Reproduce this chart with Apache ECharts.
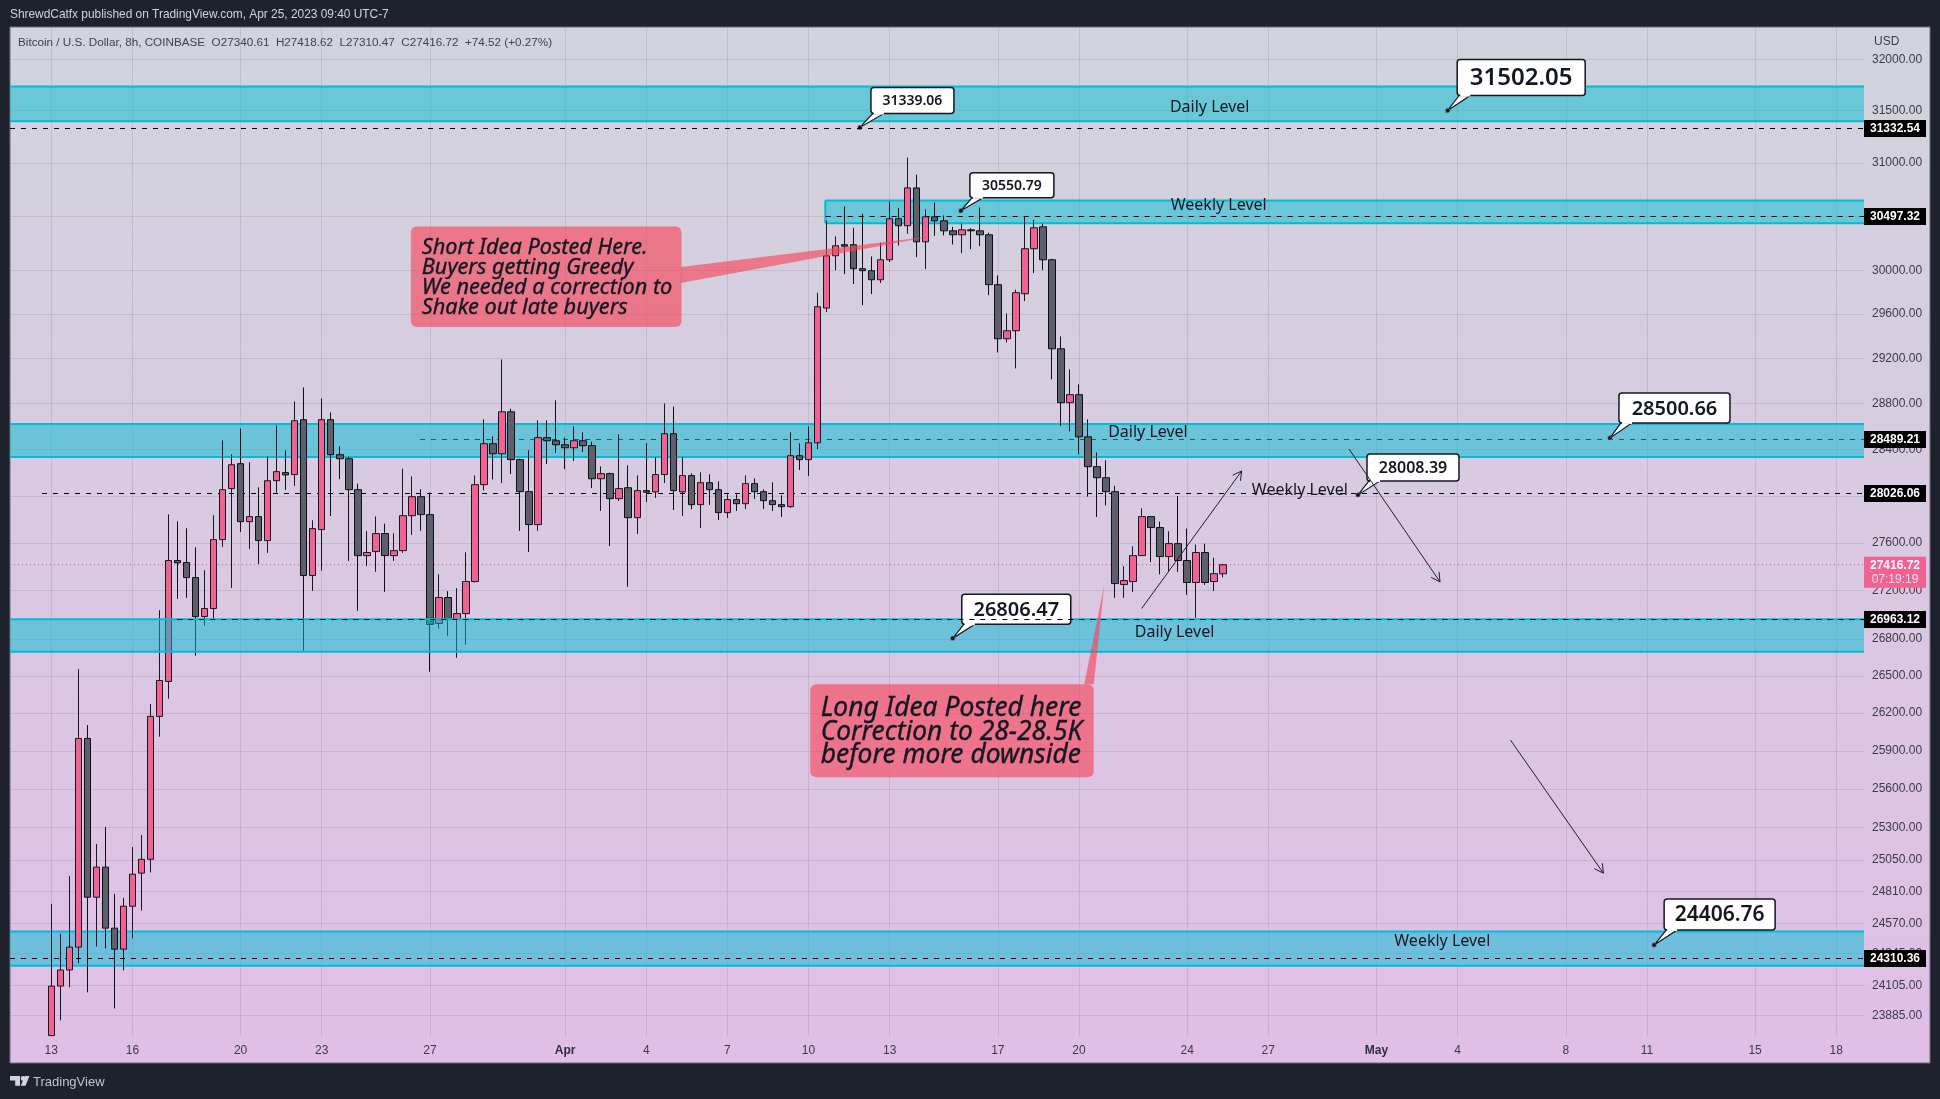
<!DOCTYPE html>
<html><head><meta charset="utf-8"><title>BTCUSD</title>
<style>html,body{margin:0;padding:0;background:#1e222d}#c{width:1940px;height:1099px}</style>
<script src="https://cdn.jsdelivr.net/npm/echarts@6/dist/echarts.min.js"></script>
</head><body><div id="c"></div><script>
// ---- data (8h candles from 13 Mar 2023) ----
const opens=[23740,24102,24221,24391,25998,24766,24995,24533,24376,24698,24949,25055,26174,26455,27452,27435,27309,26985,27052,27628,28062,28277,27780,27823,27620,28130,28200,28183,28660,27326,27713,28660,28355,28320,28053,27493,27527,27679,27493,27535,27831,27993,27840,26928,27143,26961,27010,27276,28096,28450,28363,28729,28312,28036,27755,28503,28476,28441,28415,28476,28433,28147,28191,27976,28070,27814,28045,28034,28183,28537,28034,28174,27925,28113,28053,27857,27968,27933,28105,28036,27959,27925,27908,28346,28312,28458,29655,30133,30235,30235,30014,29996,29913,30096,30476,30411,30765,30262,30494,30457,30364,30327,30373,30364,30327,29868,29378,29450,29785,30198,30401,30096,29288,28809,28880,28510,28251,28156,28036,27251,27276,27493,27823,27730,27485,27594,27452,27268,27519,27276,27340.61];
const closes=[24102,24221,24391,25998,24766,24995,24533,24376,24698,24941,25055,26174,26463,27452,27432,27309,26985,27052,27628,28053,28268,27780,27823,27620,28130,28208,28180,28651,27326,27721,28660,28355,28320,28053,27493,27519,27679,27493,27535,27831,27993,27840,26920,27143,26961,27010,27276,28096,28450,28363,28729,28312,28036,27755,28503,28476,28441,28415,28476,28433,28147,28191,27976,28062,27814,28045,28031,28183,28537,28045,28174,27925,28113,28053,27857,27968,27933,28105,28036,27959,27925,27908,28346,28312,28458,29667,30133,30225,30222,30014,29996,29913,30096,30476,30411,30765,30262,30494,30457,30364,30327,30373,30364,30327,29868,29378,29450,29795,30198,30392,30096,29288,28809,28880,28510,28251,28156,28036,27259,27284,27493,27823,27730,27485,27594,27452,27268,27519,27268,27342,27416.72];
const lows=[23735,23851,24093,24270,24056,24396,24381,23938,24218,24456,24665,24954,26012,26316,27132,27140,26664,26909,26966,27566,27223,27693,27549,27424,27516,28028,28051,28085,26704,27198,27367,27828,28144,27449,27032,27406,27357,27190,27449,27516,27667,27702,26534,26885,26827,26648,26753,27268,28047,28141,28110,28188,27702,27524,27702,28274,28369,28231,28300,28378,28067,27871,27574,27956,27232,27676,27948,27982,28110,27879,27828,27885,27727,27922,27794,27811,27871,27888,27973,27888,27871,27820,27897,28222,28170,28404,29618,29999,29965,29874,29682,29782,29883,30075,30228,30337,30121,30011,30318,30321,30238,30158,30194,30222,29773,29255,29345,29113,29719,29974,30002,29015,28604,28558,28358,27993,27820,27919,27140,27140,27190,27493,27438,27336,27360,27357,27165,26975,27248,27198,27310.47];
const highs=[24716,24491,24928,26555,26105,25173,25304,24792,24761,25149,25242,26273,27038,27842,27783,27724,27563,27371,27834,28479,28358,28584,28289,28073,28340,28610,28392,28821,28944,27792,28847,28724,28427,28337,28105,27699,27825,27763,27682,28234,28167,28056,28028,27337,27196,27221,27521,28176,28663,28514,29193,28756,28320,28392,28654,28654,28830,28503,28601,28549,28468,28254,28200,28532,28262,28176,28453,28332,28803,28776,28332,28194,28202,28185,28124,28013,28013,28176,28150,28056,28116,28005,28549,28453,28601,29795,30460,30312,30591,30392,30522,30127,30253,30637,30578,31052,30890,30563,30628,30507,30401,30429,30389,30581,30346,29953,29606,29822,30503,30466,30429,30106,29399,29104,28971,28663,28375,28306,28087,27404,27572,27894,27823,27780,27699,27998,27721,27586,27594,27475,27418.62];

const xTickDates=['2023-03-13','2023-03-16','2023-03-20','2023-03-23','2023-03-27','2023-04-01','2023-04-04','2023-04-07','2023-04-10','2023-04-13','2023-04-17','2023-04-20','2023-04-24','2023-04-27','2023-05-01','2023-05-04','2023-05-08','2023-05-11','2023-05-15','2023-05-18'];
const xTickLabels=['13','16','20','23','27','Apr','4','7','10','13','17','20','24','27','May','4','8','11','15','18'];
const yTicks=[32000,31500,31000,30500,30000,29600,29200,28800,28400,28000,27600,27200,26800,26500,26200,25900,25600,25300,25050,24810,24570,24345,24105,23885];

const zoneTops=[31734,30647,28622,26964,24508];
const zoneBottoms=[31399,30435,28335,26696,24253];
const zoneStartBars=[null,85.86,null,null,null];
const zoneOverCandles=[false,false,false,true,false];

const levelPrices=[31332.54,30497.32,28489.21,28026.06,26963.12,24310.36];
const levelStartBars=[null,85.9,40.9,-1.03,13.98,null];
const levelOverCandles=[true,false,false,false,true,false];
const lastPrice=27416.72, countdown='07:19:19';

const calloutValues=[31339.06,30550.79,28008.39,28500.66,31502.05,26806.47,24406.76];
const calloutBars=[89.7,100.9,144.95,172.9,154.9,100,177.8];

const levelTexts=['Daily Level','Weekly Level','Daily Level','Weekly Level','Daily Level','Weekly Level'];
const levelTextBars=[128.5,129.5,121.65,138.5,124.6,154.3];
const levelTextPrices=[31550,30619,28564,28059,26868,24446];

const arrowFromBars=[120.95,143.95,161.87];
const arrowFromPrices=[27052,28404,25985];
const arrowToBars=[132.05,154.05,172.17];
const arrowToPrices=[28214,27273,24949];

const shortNoteLines=['Short Idea Posted Here.','Buyers getting Greedy','We needed a correction to','Shake out late buyers'];
const shortNoteTipBar=97.9, shortNoteTipPrice=30315;
const longNoteLines=['Long Idea Posted here','Correction to 28-28.5K','before more downside'];
const longNoteTipBar=116.8, longNoteTipPrice=27245;

// ---- layout & style (not data) ----
const T0=Date.UTC(2023,2,13), H8=8*3600*1000;
const bar=i=>T0+i*H8;
const xMin=bar(-4.58), xMax=bar(201.08);
const yMin=23733.4, yMax=32311.6;
const UI='"Liberation Sans",sans-serif';
const calloutBox=[[11,14,83,26,14],[9,13,84,25,14],[9,14,92,27,16],[9,15,111,30,20],[9.5,15,128,36,24],[9,14,109,30,20],[10,15,111,31,21]];
const INK='#131722', CYAN='#00bcd4', NOTE='rgba(248,65,85,0.62)';
const xTickValues=xTickDates.map(d=>Date.parse(d+'T00:00:00Z'));

const zoneRows=flag=>zoneTops.map((p,i)=>[zoneStartBars[i]==null?xMin:bar(zoneStartBars[i]),p,zoneBottoms[i],i]).filter(r=>zoneOverCandles[r[3]]===flag);
const levelRows=flag=>levelPrices.map((p,i)=>[levelStartBars[i]==null?xMin:bar(levelStartBars[i]),p,i]).filter(r=>levelOverCandles[r[2]]===flag);

function renderZone(params,api){
 const a=api.coord([api.value(0),api.value(1)]), b=api.coord([xMax,api.value(2)]);
 const kids=[{type:'rect',shape:{x:a[0],y:a[1],width:b[0]-a[0],height:b[1]-a[1]},style:{fill:'rgba(0,188,212,0.5)'}},
  {type:'line',shape:{x1:a[0],y1:a[1],x2:b[0],y2:a[1]},style:{stroke:CYAN,lineWidth:2}},
  {type:'line',shape:{x1:a[0],y1:b[1],x2:b[0],y2:b[1]},style:{stroke:CYAN,lineWidth:2}}];
 if(zoneStartBars[api.value(3)]!=null)kids.push({type:'line',shape:{x1:a[0],y1:a[1],x2:a[0],y2:b[1]},style:{stroke:CYAN,lineWidth:2}});
 return {type:'group',children:kids};
}
function renderLevelLine(params,api){
 const a=api.coord([api.value(0),api.value(1)]),b=api.coord([xMax,api.value(1)]),y=Math.round(a[1])+0.5;
 return {type:'line',shape:{x1:a[0],y1:y,x2:b[0],y2:y},style:{stroke:api.value(2)===2?'rgba(0,45,65,0.7)':'#000',lineWidth:1,lineDash:[5,6]}};
}

const option={
 animation:false,
 backgroundColor:'#1e222d',
 grid:{left:10,top:27.5,width:1854,height:1009,show:false},
 tooltip:{show:false},
 xAxis:{type:'value',min:xMin,max:xMax,
  axisLine:{show:false},axisTick:{show:false,customValues:xTickValues},
  splitLine:{show:true,lineStyle:{color:'rgba(70,60,90,0.13)',width:1}},
  minorSplitLine:{show:false},
  axisLabel:{customValues:xTickValues,margin:8,color:'#3a3a46',fontSize:12,fontFamily:UI,hideOverlap:false,
   formatter:v=>{const s=xTickLabels[xTickValues.indexOf(v)]||'';return /[A-Z]/.test(s)?'{m|'+s+'}':s;},
   rich:{m:{fontWeight:'bold',color:'#2e2e3a',fontSize:12,fontFamily:UI}}}
 },
 yAxis:{type:'log',logBase:10,min:yMin,max:yMax,position:'right',
  axisLine:{show:false},axisTick:{show:false,customValues:yTicks},
  splitLine:{show:true,lineStyle:{color:'rgba(70,60,90,0.13)',width:1}},
  minorTick:{show:false},minorSplitLine:{show:false},
  axisLabel:{customValues:yTicks,margin:8,color:'#3a3a46',fontSize:12,fontFamily:UI,align:'left',hideOverlap:false,
   formatter:v=>Math.round(v).toFixed(2)}
 },
 graphic:{elements:[
  {type:'rect',z:-10,silent:true,shape:{x:10,y:27,width:1920,height:1036},
   style:{fill:new echarts.graphic.LinearGradient(0,0,0,1,[{offset:0,color:'#d1d4dc'},{offset:1,color:'#e1bee7'}]),stroke:'#6c6f7c',lineWidth:1}},
  {type:'text',silent:true,style:{x:10,y:15,text:'ShrewdCatfx published on TradingView.com, Apr 25, 2023 09:40 UTC-7',fill:'#d1d4dc',font:'11.9px '+UI,verticalAlign:'middle'}},
  {type:'text',silent:true,z:20,style:{x:18,y:42.5,text:'Bitcoin / U.S. Dollar, 8h, COINBASE  O27340.61  H27418.62  L27310.47  C27416.72  +74.52 (+0.27%)',fill:'#3f424d',font:'11.7px '+UI,verticalAlign:'middle'}},
  {type:'text',silent:true,z:20,style:{x:1874,y:42,text:'USD',fill:'#3a3a46',font:'12px '+UI,verticalAlign:'middle'}},
  {type:'text',silent:true,style:{x:33,y:1082,text:'TradingView',fill:'#c2c5ce',font:'13px '+UI,verticalAlign:'middle'}},
  {type:'polygon',silent:true,shape:{points:[[10,1076],[20,1076],[20,1085.7],[15.2,1085.7],[15.2,1080.5],[10,1080.5]]},style:{fill:'#d1d4dc'}},
  {type:'circle',silent:true,shape:{cx:23,cy:1078.4,r:2.3},style:{fill:'#d1d4dc'}},
  {type:'polygon',silent:true,shape:{points:[[29.5,1076],[25.5,1085.7],[20.8,1085.7],[24.8,1076]]},style:{fill:'#d1d4dc'}}
 ]},
 series:[
  {type:'line',z:1,silent:true,symbol:'none',data:[[xMin,lastPrice],[xMax,lastPrice]],
   lineStyle:{color:'#f0475a',width:1,type:[1,3]}},
  {type:'custom',z:1,silent:true,data:zoneRows(false),encode:{x:0,y:[1,2]},renderItem:renderZone},
  {type:'custom',z:1,silent:true,data:levelRows(false),encode:{x:0,y:1},renderItem:renderLevelLine},
  {type:'candlestick',z:2,silent:true,barWidth:7,
   itemStyle:{color:'#f06292',color0:'#5d606b',borderColor:'#16181f',borderColor0:'#0e0f14',borderWidth:1},
   data:opens.map((o,i)=>[bar(i),o,closes[i],lows[i],highs[i]])},
  {type:'custom',z:3,silent:true,data:zoneRows(true),encode:{x:0,y:[1,2]},renderItem:renderZone},
  // callouts
  {type:'custom',z:4,silent:true,
   data:calloutValues.map((p,i)=>[bar(calloutBars[i]),p]),encode:{x:0,y:1},
   renderItem(params,api){
    const i=params.dataIndex,c=api.coord([api.value(0),api.value(1)]),[dx,dy,w,h,fs]=calloutBox[i];
    const L=c[0]+dx,B=c[1]-dy;
    return {type:'group',children:[
     {type:'polygon',shape:{points:[[c[0],c[1]],[L+2,B],[L+13,B]]},style:{fill:'#fff',stroke:INK,lineWidth:1.2}},
     {type:'rect',shape:{x:L,y:B-h,width:w,height:h,r:3},style:{fill:'#fff',stroke:INK,lineWidth:1.5}},
     {type:'rect',shape:{x:L+3,y:B-2,width:10,height:3},style:{fill:'#fff'}},
     {type:'circle',shape:{cx:c[0],cy:c[1],r:2.2},style:{fill:'#111',stroke:'rgba(120,120,140,0.6)',lineWidth:1}},
     {type:'text',style:{x:L+w/2,y:B-h/2+1,text:calloutValues[i].toFixed(2),fill:INK,font:'600 '+fs+'px "Noto Sans",sans-serif',align:'center',verticalAlign:'middle'}}
    ]};
   }},
  // level labels
  {type:'custom',z:4,silent:true,
   data:levelTexts.map((_,i)=>[bar(levelTextBars[i]),levelTextPrices[i]]),encode:{x:0,y:1},
   renderItem(params,api){
    const c=api.coord([api.value(0),api.value(1)]);
    return {type:'text',style:{x:c[0],y:c[1]+1.5,text:levelTexts[params.dataIndex],fill:INK,font:'16px "Noto Sans",sans-serif',align:'center',verticalAlign:'middle'}};
   }},
  // arrows
  {type:'custom',z:4,silent:true,
   data:arrowFromBars.map((b,i)=>[bar(b),arrowFromPrices[i],bar(arrowToBars[i]),arrowToPrices[i]]),encode:{x:[0,2],y:[1,3]},
   renderItem(params,api){
    const a=api.coord([api.value(0),api.value(1)]),b=api.coord([api.value(2),api.value(3)]);
    const ang=Math.atan2(b[1]-a[1],b[0]-a[0]),n=10,s=0.5;
    const p=t=>[b[0]-n*Math.cos(ang+t),b[1]-n*Math.sin(ang+t)];
    const st={stroke:'#1c1f29',lineWidth:1,fill:null};
    return {type:'group',children:[
     {type:'line',shape:{x1:a[0],y1:a[1],x2:b[0],y2:b[1]},style:st},
     {type:'polyline',shape:{points:[p(s),b,p(-s)]},style:st}
    ]};
   }},
  // note boxes
  {type:'custom',z:5,silent:true,
   data:[[bar(shortNoteTipBar),shortNoteTipPrice],[bar(longNoteTipBar),longNoteTipPrice]],encode:{x:0,y:1},
   renderItem(params,api){
    const c=api.coord([api.value(0),api.value(1)]),i=params.dataIndex;
    const cfg=i===0
     ?{x:-523,y:-9.7,w:270.7,h:100.7,tx:-512,ly:[11.5,31.5,51.5,71.5],fs:21.7,lines:shortNoteLines,tail:[[-253,31],[-253,47]]}
     :{x:-294,y:99,w:283.5,h:93,tx:-283.5,ly:[123.5,147.5,170.5],fs:26.4,lines:longNoteLines,tail:[[-20,99],[-10.5,99]]};
    const kids=[
     {type:'polygon',shape:{points:[c,[c[0]+cfg.tail[0][0],c[1]+cfg.tail[0][1]],[c[0]+cfg.tail[1][0],c[1]+cfg.tail[1][1]]]},style:{fill:NOTE}},
     {type:'rect',shape:{x:c[0]+cfg.x,y:c[1]+cfg.y,width:cfg.w,height:cfg.h,r:6},style:{fill:NOTE}}];
    cfg.lines.forEach((t,k)=>kids.push({type:'text',style:{x:c[0]+cfg.tx,y:c[1]+cfg.ly[k],text:t,fill:INK,stroke:INK,lineWidth:0.35,font:'italic '+cfg.fs+'px "Noto Sans",sans-serif',verticalAlign:'middle'}}));
    return {type:'group',children:kids};
   }},
  // dashed levels that sit above candles and callouts
  {type:'custom',z:6,silent:true,data:levelRows(true),encode:{x:0,y:1},renderItem:renderLevelLine},
  // axis badges
  {type:'custom',z:6,silent:true,
   data:levelPrices.map(p=>[xMax,p]),encode:{x:0,y:1},
   renderItem(params,api){
    const i=params.dataIndex,b=api.coord([xMax,api.value(1)]),y=Math.round(b[1])+0.5;
    return {type:'group',children:[
     {type:'rect',shape:{x:b[0],y:y-8.5,width:62,height:17},style:{fill:'#000'}},
     {type:'text',style:{x:b[0]+31,y:y+0.5,text:levelPrices[i].toFixed(2),fill:'#fff',font:'bold 12px '+UI,align:'center',verticalAlign:'middle'}}
    ]};
   }},
  // last price badge
  {type:'custom',z:6,silent:true,data:[[xMax,lastPrice]],encode:{x:0,y:1},
   renderItem(params,api){
    const c=api.coord([api.value(0),api.value(1)]);
    return {type:'group',children:[
     {type:'rect',shape:{x:c[0],y:c[1]-8,width:62,height:31},style:{fill:'#f06292'}},
     {type:'text',style:{x:c[0]+31,y:c[1]+0.5,text:lastPrice.toFixed(2),fill:'#fff',font:'bold 12px '+UI,align:'center',verticalAlign:'middle'}},
     {type:'text',style:{x:c[0]+31,y:c[1]+14.5,text:countdown,fill:'#fbdde8',font:'12px '+UI,align:'center',verticalAlign:'middle'}}
    ]};
   }}
 ]
};
echarts.init(document.getElementById('c'),null,{renderer:'canvas',width:1940,height:1099}).setOption(option);
</script></body></html>
